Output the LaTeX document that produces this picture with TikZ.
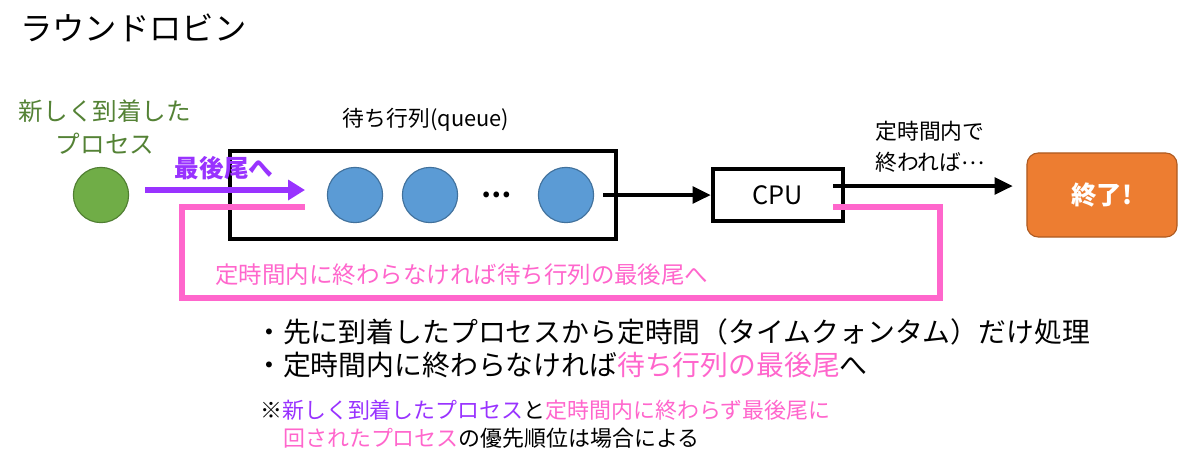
\documentclass[tikz,border=0pt]{standalone}
\usepackage{fontspec}
\setmainfont{Noto Sans CJK JP}
\usepackage{tikz}
\usetikzlibrary{arrows.meta,positioning}
\definecolor{newgreen}{HTML}{70AD47}
\definecolor{newgreenline}{HTML}{507E32}
\definecolor{textgreen}{HTML}{548235}
\definecolor{qblue}{HTML}{5B9BD5}
\definecolor{qblueline}{HTML}{41719C}
\definecolor{endorange}{HTML}{ED7D31}
\definecolor{endorangeline}{HTML}{AE5A21}
\definecolor{tailpink}{HTML}{FF66CC}
\definecolor{newpurple}{HTML}{9933FF}
\newcommand{\middots}{\raisebox{0.3em}{…}}
\tikzstyle{job} = [circle, draw=qblueline, fill=qblue, line width=0.8pt, minimum size=1.38cm, inner sep=0pt]
\tikzstyle{newjob} = [job, draw=newgreenline, fill=newgreen]
\tikzstyle{queuebox} = [rectangle, draw, line width=2.8pt, minimum width=9.65cm, minimum height=2.2cm]
\tikzstyle{cpubox} = [rectangle, draw, fill=white, line width=2.8pt, minimum width=3.25cm, minimum height=1.3cm, font=\fontsize{18}{20}\selectfont]
\tikzstyle{donebox} = [rectangle, rounded corners=8pt, draw=endorangeline, fill=endorange, line width=0.8pt, minimum width=3.75cm, minimum height=2.1cm, text=white, font=\bfseries\fontsize{18}{20}\selectfont]
\tikzstyle{line} = [draw, line width=3.5pt, -{Triangle[length=13pt,width=11.5pt]}]
\tikzstyle{enqueue} = [draw=newpurple, line width=4.2pt, -{Triangle[length=12pt,width=14pt]}]
\tikzstyle{requeue} = [draw=tailpink, line width=4.2pt]
\tikzstyle{textlabel} = [inner sep=0pt]
\begin{document}
\begin{tikzpicture}[x=0.025cm, y=-0.025cm]
  \useasboundingbox (0,0) rectangle (1200,470);
  % title
  \node [textlabel, anchor=west, font=\fontsize{23}{28}\selectfont] (title) at (20,28) {ラウンドロビン};
  % new process
  \node [textlabel, align=center, text=textgreen, font=\fontsize{17.5}{23.5}\selectfont] (newlabel) at (105,127) {新しく到着した\\プロセス};
  \node [newjob] (newproc) at (101,195) {};
  % queue
  \node [queuebox] (queue) at (423,195) {};
  \node [textlabel, font=\fontsize{15.5}{18}\selectfont] (queuelabel) at (426,120) {待ち行列(queue)};
  \node [job] (job1) at (355,195) {};
  \node [job] (job2) at (430,195) {};
  \node [textlabel, font=\bfseries\fontsize{19}{20}\selectfont] (dots) at (497,195) {…};
  \node [job] (job3) at (566,195) {};
  % cpu and end
  \node [cpubox] (cpu) at (778,195) {CPU};
  \node [donebox] (done) at (1102,195) {終了!};
  \node [textlabel, align=left, font=\fontsize{15.5}{22}\selectfont] (donelabel) at (930,147) {定時間内で\\終われば\middots};
  % connectors
  \coordinate (enqstart) at (145,190);
  \coordinate (enqend) at (305,190);
  \coordinate (qout) at (603,195);
  \coordinate (cpuout) at (833,186);
  \coordinate (doneend) at (1013,186);
  \coordinate (loopstart) at (833,207);
  \coordinate (loopright) at (940,207);
  \coordinate (loopbr) at (940,298);
  \coordinate (loopbl) at (182,298);
  \coordinate (looptl) at (182,207);
  \coordinate (loopend) at (305,207);
  \path [requeue] (loopstart) -- (loopright) -- (loopbr) -- (loopbl) -- (looptl) -- (loopend);
  \path [enqueue] (enqstart) -- (enqend);
  \node [textlabel, text=newpurple, font=\bfseries\fontsize{17.5}{20}\selectfont] (enqlabel) at (224,168) {最後尾へ};
  \path [line] (qout) -- (cpu.west |- qout);
  \path [line] (cpuout) -- (doneend);
  \node [textlabel, anchor=west, text=tailpink, font=\fontsize{16.7}{20}\selectfont] (looplabel) at (215,275) {定時間内に終わらなければ待ち行列の最後尾へ};
  % explanation
  \node [textlabel, anchor=west, font=\fontsize{19.8}{24}\selectfont] (rule1) at (255,332) {・先に到着したプロセスから定時間（タイムクォンタム）だけ処理};
  \node [textlabel, anchor=west, font=\fontsize{19.8}{24}\selectfont] (rule2) at (255,365) {・定時間内に終わらなければ{\color{tailpink}待ち行列の最後尾}へ};
  \node [textlabel, anchor=west, font=\fontsize{15.6}{20}\selectfont] (note1) at (260,410) {※{\color{newpurple}新しく到着したプロセス}と{\color{tailpink}定時間内に終わらず最後尾に}};
  \node [textlabel, anchor=west, font=\fontsize{15.6}{20}\selectfont] (note2) at (283,438) {{\color{tailpink}回されたプロセス}の優先順位は場合による};
\end{tikzpicture}
\end{document}
